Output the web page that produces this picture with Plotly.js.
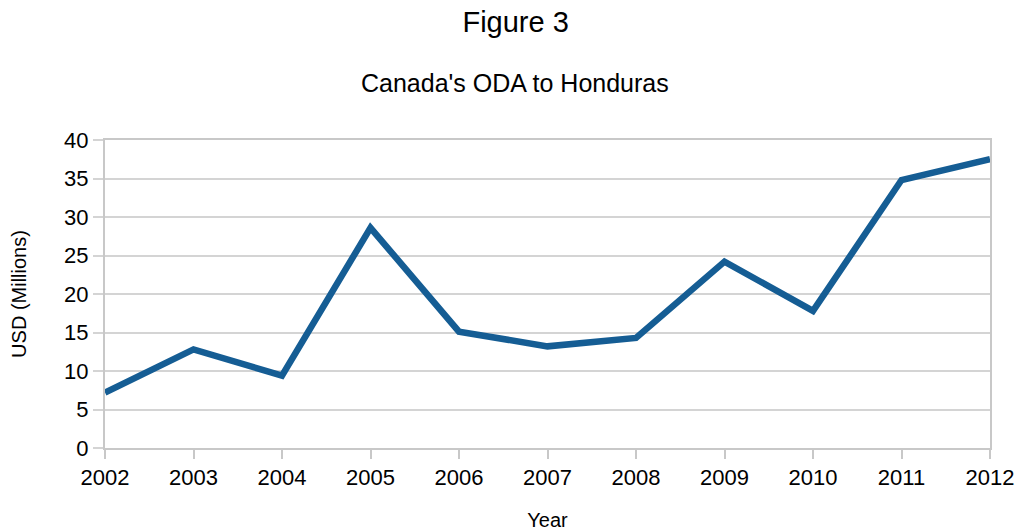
<!DOCTYPE html>
<html><head><meta charset="utf-8">
<script src="https://cdn.plot.ly/plotly-3.0.1.min.js"></script>
<style>html,body{margin:0;padding:0;background:#fff}#chart{width:1017px;height:531px}</style>
</head><body><div id="chart"></div>
<script>
var years = [2002, 2003, 2004, 2005, 2006, 2007, 2008, 2009, 2010, 2011, 2012];
var odaUSDMillions = [7.2, 12.8, 9.4, 28.6, 15.1, 13.2, 14.3, 24.2, 17.8, 34.8, 37.5];
var yTicks = [0, 5, 10, 15, 20, 25, 30, 35, 40];

var font = "Liberation Sans, Arial, sans-serif";
Plotly.newPlot('chart', [{
  x: years, y: odaUSDMillions, type: 'scatter', mode: 'lines',
  line: {color: '#155d94', width: 6.5}, hoverinfo: 'x+y'
}], {
  width: 1017, height: 531,
  margin: {l: 105, r: 27, t: 140, b: 83},
  paper_bgcolor: '#fff', plot_bgcolor: '#fff',
  showlegend: false,
  font: {family: font, color: '#000'},
  title: {text: 'Figure 3', x: 0.507, xanchor: 'center', y: 0.958, yanchor: 'middle', font: {size: 29, family: font, color: '#000'}},
  annotations: [{text: "Canada's ODA to Honduras", xref: 'paper', yref: 'paper', x: 0.463, y: 1, yshift: 57, xanchor: 'center', yanchor: 'middle', showarrow: false, font: {size: 25, family: font, color: '#000'}}],
  xaxis: {
    range: [2002, 2012], tickmode: 'array', tickvals: years, ticktext: years.map(String),
    showgrid: false, zeroline: false, showline: true, linecolor: '#c8c8c8', linewidth: 2, mirror: true,
    ticks: 'outside', ticklen: 9, tickcolor: '#c8c8c8', tickwidth: 2,
    tickfont: {size: 22, family: font, color: '#000'},
    title: {text: 'Year', font: {size: 20, family: font, color: '#000'}, standoff: 24}
  },
  yaxis: {
    range: [0, 40], tickmode: 'array', tickvals: yTicks,
    showgrid: true, gridcolor: '#d4d4d4', gridwidth: 2, zeroline: false,
    showline: true, linecolor: '#c8c8c8', linewidth: 2, mirror: true,
    ticks: 'outside', ticklen: 10, tickcolor: '#d4d4d4', tickwidth: 2,
    tickfont: {size: 22, family: font, color: '#000'},
    title: {text: 'USD (Millions)', font: {size: 20, family: font, color: '#000'}, standoff: 32}
  }
}, {staticPlot: true});
</script></body></html>
